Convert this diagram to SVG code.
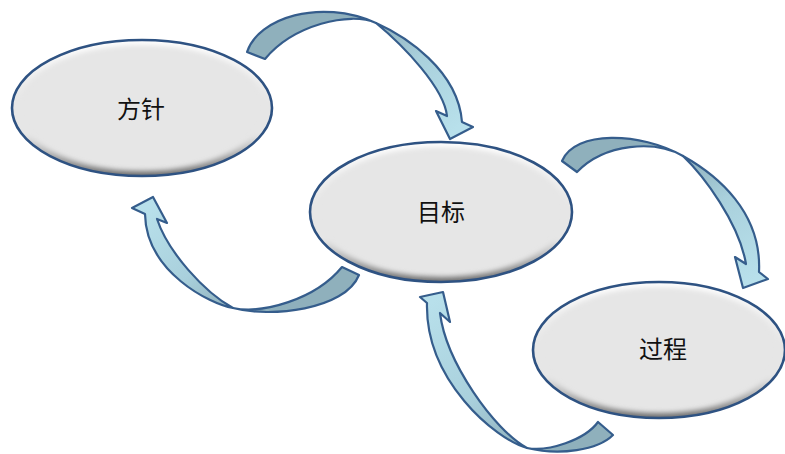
<svg xmlns="http://www.w3.org/2000/svg" width="785" height="454" viewBox="0 0 785 454">
<defs>
<style>
.base{fill:#e6e6e6}
.bev{fill:none;stroke:url(#bevGrad);stroke-width:10;filter:url(#blur);clip-path:url(#ellClip)}
.edge{fill:none;stroke:#2e5282;stroke-width:2.6}
.lbl{font-family:"Noto Sans CJK SC","Noto Sans",sans-serif;font-size:24px;fill:#111;text-anchor:middle}
.back{fill:#8fb0bc;stroke:#355d8c;stroke-width:2.2;stroke-linejoin:round}
.front{stroke:#355d8c;stroke-width:2.2;stroke-linejoin:round}
</style>
<linearGradient id="bevGrad" x1="0" y1="0" x2="0" y2="1">
<stop offset="0" stop-color="#ffffff"/>
<stop offset="0.45" stop-color="#e6e6e6"/>
<stop offset="0.7" stop-color="#e6e6e6"/>
<stop offset="1" stop-color="#6e6e6e"/>
</linearGradient>
<clipPath id="ellClip" clipPathUnits="objectBoundingBox"><ellipse cx="0.5" cy="0.5" rx="0.5" ry="0.5"/></clipPath>
<filter id="blur" x="-10%" y="-10%" width="120%" height="120%"><feGaussianBlur stdDeviation="2.5"/></filter>
<linearGradient id="g1" gradientUnits="userSpaceOnUse" x1="376" y1="23" x2="455" y2="130">
<stop offset="0" stop-color="#8fb0bc"/><stop offset="0.4" stop-color="#a9d0dc"/><stop offset="1" stop-color="#b8e0eb"/>
</linearGradient>
<linearGradient id="g2" gradientUnits="userSpaceOnUse" x1="683" y1="156" x2="752" y2="280">
<stop offset="0" stop-color="#8fb0bc"/><stop offset="0.4" stop-color="#a9d0dc"/><stop offset="1" stop-color="#b8e0eb"/>
</linearGradient>
<linearGradient id="g3" gradientUnits="userSpaceOnUse" x1="233" y1="308" x2="150" y2="205">
<stop offset="0" stop-color="#8fb0bc"/><stop offset="0.4" stop-color="#a9d0dc"/><stop offset="1" stop-color="#b8e0eb"/>
</linearGradient>
<linearGradient id="g4" gradientUnits="userSpaceOnUse" x1="527" y1="448" x2="435" y2="300">
<stop offset="0" stop-color="#8fb0bc"/><stop offset="0.4" stop-color="#a9d0dc"/><stop offset="1" stop-color="#b8e0eb"/>
</linearGradient>
</defs>
<rect width="785" height="454" fill="#ffffff"/>
<g id="connectors">
<g id="arrow-fangzhen-mubiao">
<path class="back" d="M247,52 C258,18 320,-2 376,23 C350,11 293,25 265,59 Z"/>
<path class="front" fill="url(#g1)" d="M376,23 C405,36 458,70 462,122 L473,127 L450,139 L436,111 L447,116 C444,88 404,46 376,23 Z"/>
</g>
<g id="arrow-mubiao-guocheng">
<path class="back" d="M562,161 C575,130 640,132 683,156 C655,140 605,143 577,172 Z"/>
<path class="front" fill="url(#g2)" d="M683,156 C717,175 762,212 759,272 L768,279 L743,288 L735,257 L746,264 C739,223 704,176 683,156 Z"/>
</g>
<g id="arrow-mubiao-fangzhen">
<path class="back" d="M359,275 C345,310 270,318 233,308 C262,314 315,300 342,267 Z"/>
<path class="front" fill="url(#g3)" d="M233,308 C210,304 146,272 145,214 L132,208 L153,197 L167,223 L157,219 C168,252 204,292 233,308 Z"/>
</g>
<g id="arrow-guocheng-mubiao">
<path class="back" d="M613,435 C598,450 560,456 527,448 C548,452 585,440 598,422 Z"/>
<path class="front" fill="url(#g4)" d="M527,448 C495,439 425,380 427,303 L420,297 L443,292 L450,322 L440,313 C446,362 494,430 527,448 Z"/>
</g>
</g>
<g id="node-fangzhen">
<ellipse class="base" cx="142" cy="108" rx="130" ry="68"/>
<ellipse class="bev" cx="142" cy="108" rx="130" ry="68"/>
<ellipse class="edge" cx="142" cy="108" rx="130" ry="68"/>
<text class="lbl" x="141" y="118">方针</text>
</g>
<g id="node-mubiao">
<ellipse class="base" cx="441" cy="212" rx="131" ry="70"/>
<ellipse class="bev" cx="441" cy="212" rx="131" ry="70"/>
<ellipse class="edge" cx="441" cy="212" rx="131" ry="70"/>
<text class="lbl" x="441" y="221">目标</text>
</g>
<g id="node-guocheng">
<ellipse class="base" cx="659" cy="350" rx="126" ry="68"/>
<ellipse class="bev" cx="659" cy="350" rx="126" ry="68"/>
<ellipse class="edge" cx="659" cy="350" rx="126" ry="68"/>
<text class="lbl" x="663" y="358">过程</text>
</g>
</svg>
